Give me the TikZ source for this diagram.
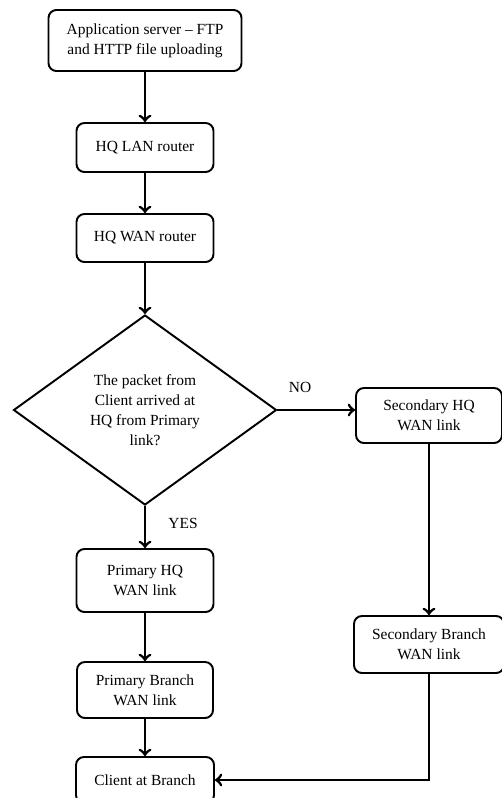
\documentclass[tikz,border=0pt]{standalone}
\usepackage{fontspec}
\setmainfont{Liberation Serif}
\usetikzlibrary{shapes.geometric,arrows}
\tikzset{
    stepbox/.style={draw, line width=1.1pt, rounded corners=4.5pt, align=center,
        inner sep=0pt, font=\fontsize{8.8}{11.5}\selectfont},
    decision/.style={draw, diamond, line width=1.1pt, align=center, inner sep=0pt,
        font=\fontsize{8.8}{11.5}\selectfont},
    flow/.style={->, >=to, line width=1.6pt},
    tag/.style={font=\fontsize{8.8}{11.5}\selectfont}
}
\begin{document}
\begin{tikzpicture}[x=0.02cm, y=-0.02cm]
                    \useasboundingbox (0, 0) rectangle (502, 798);
                    % Left column
                    \node[stepbox, minimum width=193*0.02cm, minimum height=61*0.02cm] (app) at (145, 40.5) {Application server -- FTP\\and HTTP file uploading};
                    \node[stepbox, minimum width=137*0.02cm, minimum height=49*0.02cm] (lanrouter) at (145, 147.5) {HQ LAN router};
                    \node[stepbox, minimum width=137*0.02cm, minimum height=48*0.02cm] (wanrouter) at (145, 238) {HQ WAN router};
                    \node[decision, minimum width=263*0.02cm, minimum height=190*0.02cm] (check) at (145, 410) {The packet from\\Client arrived at\\HQ from Primary\\link?};
                    \node[stepbox, minimum width=137*0.02cm, minimum height=63*0.02cm] (primhq) at (145, 580.5) {Primary HQ\\WAN link};
                    \node[stepbox, minimum width=136*0.02cm, minimum height=56*0.02cm] (primbranch) at (145, 690) {Primary Branch\\WAN link};
                    \node[stepbox, minimum width=138*0.02cm, minimum height=46*0.02cm] (client) at (145, 780) {Client at Branch};
                    % Right column
                    \node[stepbox, minimum width=146*0.02cm, minimum height=55*0.02cm] (sechq) at (429, 415.5) {Secondary HQ\\WAN link};
                    \node[stepbox, minimum width=150*0.02cm, minimum height=57*0.02cm] (secbranch) at (429, 644.5) {Secondary Branch\\WAN link};
                    % Arrows
                    \draw[flow] (app) -- (lanrouter);
                    \draw[flow] (lanrouter) -- (wanrouter);
                    \draw[flow] (wanrouter) -- (check);
                    \draw[flow] (check) -- (primhq);
                    \draw[flow] (primhq) -- (primbranch);
                    \draw[flow] (primbranch) -- (client);
                    \draw[flow] (check.east) -- (check.east -| sechq.west);
                    \draw[flow] (sechq) -- (secbranch);
                    \draw[flow] (secbranch.south) |- (client.east);
                    % Labels
                    \node[tag] (no) at (300, 387) {NO};
                    \node[tag] (yes) at (183, 523) {YES};
                \end{tikzpicture}
\end{document}
